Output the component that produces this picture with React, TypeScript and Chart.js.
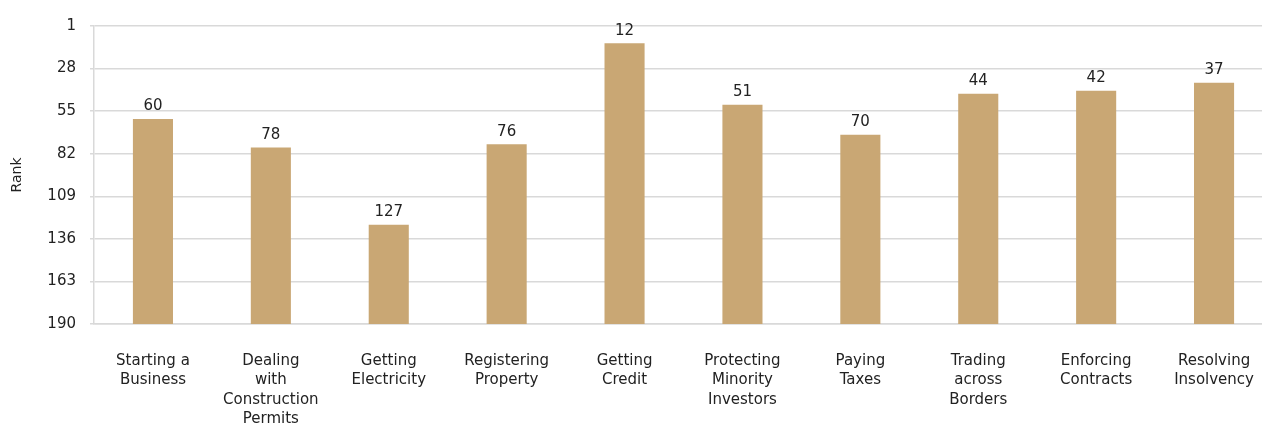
import React, { useEffect, useRef } from "react";
import { Chart, registerables } from "chart.js";

Chart.register(...registerables);

const categories: string[][] = [
  ["Starting a", "Business"],
  ["Dealing", "with", "Construction", "Permits"],
  ["Getting", "Electricity"],
  ["Registering", "Property"],
  ["Getting", "Credit"],
  ["Protecting", "Minority", "Investors"],
  ["Paying", "Taxes"],
  ["Trading", "across", "Borders"],
  ["Enforcing", "Contracts"],
  ["Resolving", "Insolvency"],
];
const ranks: number[] = [60, 78, 127, 76, 12, 51, 70, 44, 42, 37];
const yTicks: number[] = [1, 28, 55, 82, 109, 136, 163, 190];
const worstRank = 190;

const FONT = "'DejaVu Sans', sans-serif";

const valueLabels = {
  id: "valueLabels",
  afterDatasetsDraw(chart: any) {
    const ctx = chart.ctx;
    const meta = chart.getDatasetMeta(0);
    ctx.save();
    ctx.font = `15px ${FONT}`;
    ctx.fillStyle = "#222222";
    ctx.textAlign = "center";
    ctx.textBaseline = "bottom";
    meta.data.forEach((bar: any, i: number) => {
      const top = Math.min(bar.y, bar.base);
      ctx.fillText(String(ranks[i]), bar.x, top - 5);
    });
    ctx.restore();
  },
};

export default function App() {
  const ref = useRef<HTMLCanvasElement>(null);
  useEffect(() => {
    document.body.style.margin = "0";
    const chart = new Chart(ref.current!, {
      type: "bar",
      data: {
        labels: categories,
        datasets: [
          {
            label: "Rank",
            data: ranks.map((r) => [worstRank, r]) as any,
            backgroundColor: "#C9A774",
            borderWidth: 0,
            barPercentage: 0.68,
            categoryPercentage: 0.5,
          },
        ],
      },
      options: {
        animation: false,
        responsive: false,
        maintainAspectRatio: false,
        layout: { padding: { top: 26, right: 0, left: 0, bottom: 0 } },
        plugins: { legend: { display: false }, tooltip: { enabled: false } },
        scales: {
          x: {
            grid: { display: false },
            border: { display: true, color: "#d9d9d9", width: 1.5 },
            ticks: {
              color: "#222222",
              font: { family: FONT, size: 15, lineHeight: 1.3 },
              padding: 19,
              maxRotation: 0,
              autoSkip: false,
            },
            afterFit(scale: any) {
              scale.height = 99;
            },
          },
          y: {
            type: "linear",
            reverse: true,
            min: 1,
            max: 190,
            afterBuildTicks(scale: any) {
              scale.ticks = yTicks.map((v) => ({ value: v }));
            },
            grid: { color: "#d9d9d9", lineWidth: 1.5, tickLength: 4, drawTicks: true },
            border: { display: true, color: "#d9d9d9", width: 1.5 },
            ticks: {
              color: "#222222",
              font: { family: FONT, size: 15 },
              padding: 14,
            },
            title: {
              display: true,
              text: "Rank",
              color: "#222222",
              font: { family: FONT, size: 14 },
              padding: { top: 9, bottom: 0 },
            },
            afterFit(scale: any) {
              scale.width = 94;
            },
          },
        },
      },
      plugins: [valueLabels],
    });
    return () => chart.destroy();
  }, []);
  return (
    <div style={{ width: 1262, height: 423, overflow: "hidden" }}>
      <canvas ref={ref} width={1273} height={423} style={{ display: "block" }} />
    </div>
  );
}
